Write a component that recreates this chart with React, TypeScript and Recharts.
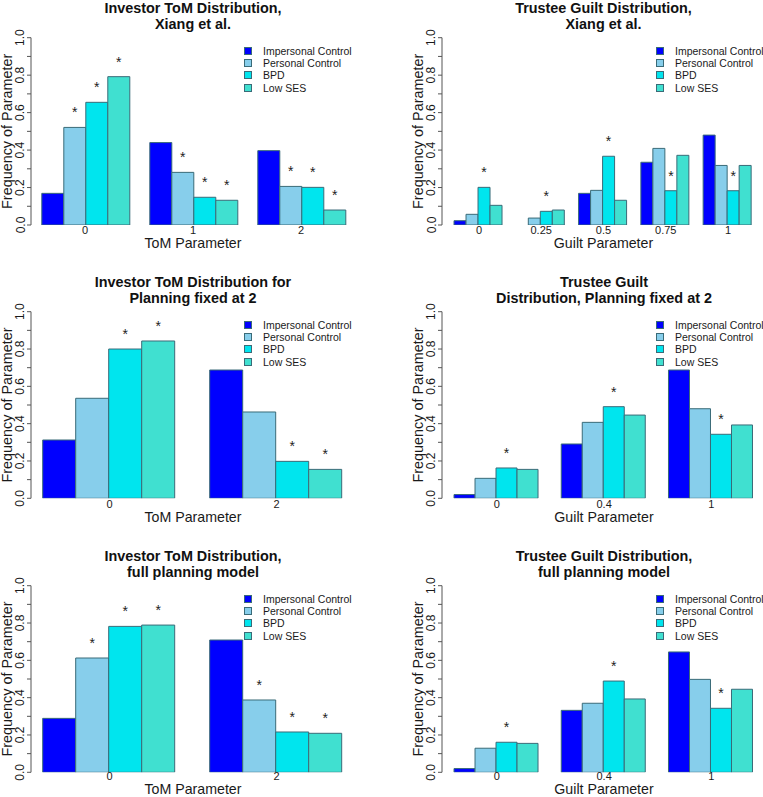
import React from "react";
import { BarChart, Bar, XAxis, YAxis, Legend, LabelList, Label } from "recharts";

const FONT = "'Liberation Sans', Arial, Helvetica, sans-serif";
const BORDER = "#3a6b78";
const INK = "#1a1a1a";

const SERIES_KEYS = ["ic", "pc", "bpd", "ses"];
const SERIES_NAMES = ["Impersonal Control", "Personal Control", "BPD", "Low SES"];
const SERIES_COLORS = ["#0000FF", "#87CEEB", "#00E5EE", "#40E0D0"];

const Y_TICKS = [0, 0.1, 0.2, 0.3, 0.4, 0.5, 0.6, 0.7, 0.8, 0.9, 1.0];

// Investor ToM, Xiang et al.
const TOM_XIANG_CATS = ["0", "1", "2"];
const TOM_XIANG_IC = [0.169, 0.44, 0.397];
const TOM_XIANG_PC = [0.521, 0.281, 0.206];
const TOM_XIANG_BPD = [0.655, 0.148, 0.201];
const TOM_XIANG_SES = [0.792, 0.132, 0.08];
const TOM_XIANG_STARS = [[0, 1, 1, 1], [0, 1, 1, 1], [0, 1, 1, 1]];

// Trustee guilt, Xiang et al.
const GUILT_XIANG_CATS = ["0", "0.25", "0.5", "0.75", "1"];
const GUILT_XIANG_IC = [0.023, 0, 0.169, 0.335, 0.48];
const GUILT_XIANG_PC = [0.057, 0.037, 0.185, 0.409, 0.318];
const GUILT_XIANG_BPD = [0.201, 0.073, 0.367, 0.183, 0.183];
const GUILT_XIANG_SES = [0.105, 0.08, 0.132, 0.372, 0.318];
const GUILT_XIANG_STARS = [[0, 0, 1, 0], [0, 0, 1, 0], [0, 0, 1, 0], [0, 0, 1, 0], [0, 0, 1, 0]];

// Investor ToM, planning fixed at 2
const TOM_FIXED_CATS = ["0", "2"];
const TOM_FIXED_IC = [0.3125, 0.6875];
const TOM_FIXED_PC = [0.536, 0.4625];
const TOM_FIXED_BPD = [0.8, 0.198];
const TOM_FIXED_SES = [0.843, 0.155];
const TOM_FIXED_STARS = [[0, 0, 1, 1], [0, 0, 1, 1]];

// Trustee guilt, planning fixed at 2
const GUILT_FIXED_CATS = ["0", "0.4", "1"];
const GUILT_FIXED_IC = [0.02, 0.291, 0.6875];
const GUILT_FIXED_PC = [0.107, 0.407, 0.48];
const GUILT_FIXED_BPD = [0.1625, 0.491, 0.343];
const GUILT_FIXED_SES = [0.155, 0.446, 0.393];
const GUILT_FIXED_STARS = [[0, 0, 1, 0], [0, 0, 1, 0], [0, 0, 1, 0]];

// Investor ToM, full planning model
const TOM_FULL_CATS = ["0", "2"];
const TOM_FULL_IC = [0.289, 0.709];
const TOM_FULL_PC = [0.6125, 0.3875];
const TOM_FULL_BPD = [0.782, 0.216];
const TOM_FULL_SES = [0.789, 0.209];
const TOM_FULL_STARS = [[0, 1, 1, 1], [0, 1, 1, 1]];

// Trustee guilt, full planning model
const GUILT_FULL_CATS = ["0", "0.4", "1"];
const GUILT_FULL_IC = [0.02, 0.332, 0.645];
const GUILT_FULL_PC = [0.129, 0.37, 0.498];
const GUILT_FULL_BPD = [0.161, 0.489, 0.343];
const GUILT_FULL_SES = [0.155, 0.393, 0.445];
const GUILT_FULL_STARS = [[0, 0, 1, 0], [0, 0, 1, 0], [0, 0, 1, 0]];

function buildRows(cats: string[], values: number[][], stars: number[][]) {
  return cats.map((cat, i) => {
    const row: Record<string, number | string> = { cat };
    SERIES_KEYS.forEach((k, s) => {
      row[k] = values[s][i];
      row[k + "Star"] = stars[i][s];
    });
    return row;
  });
}

// tickDy / titleDy: baseline offsets below the plot bottom for x tick labels and x title
const PANELS = [
  {
    title: ["Investor ToM Distribution,", "Xiang et al."],
    xLabel: "ToM Parameter",
    rows: buildRows(TOM_XIANG_CATS, [TOM_XIANG_IC, TOM_XIANG_PC, TOM_XIANG_BPD, TOM_XIANG_SES], TOM_XIANG_STARS),
    box: { left: 0, top: 0, width: 381, height: 265 },
    plot: { left: 31, top: 37.7, right: 355, bottom: 225 },
    pad: [0, 0],
    legendLeft: 244,
    tickDy: 9.2,
    titleDy: 23,
  },
  {
    title: ["Trustee Guilt Distribution,", "Xiang et al."],
    xLabel: "Guilt Parameter",
    rows: buildRows(GUILT_XIANG_CATS, [GUILT_XIANG_IC, GUILT_XIANG_PC, GUILT_XIANG_BPD, GUILT_XIANG_SES], GUILT_XIANG_STARS),
    box: { left: 381, top: 0, width: 390, height: 265 },
    plot: { left: 442, top: 37.7, right: 765, bottom: 225 },
    pad: [5.8, 5.8],
    legendLeft: 275,
    tickDy: 9.2,
    titleDy: 23,
  },
  {
    title: ["Investor ToM Distribution for", "Planning fixed at 2"],
    xLabel: "ToM Parameter",
    rows: buildRows(TOM_FIXED_CATS, [TOM_FIXED_IC, TOM_FIXED_PC, TOM_FIXED_BPD, TOM_FIXED_SES], TOM_FIXED_STARS),
    box: { left: 0, top: 265, width: 381, height: 265 },
    plot: { left: 31, top: 311.7, right: 355, bottom: 498.3 },
    pad: [-5, -5],
    legendLeft: 244,
    tickDy: 9.6,
    titleDy: 23.3,
  },
  {
    title: ["Trustee Guilt", "Distribution, Planning fixed at 2"],
    xLabel: "Guilt Parameter",
    rows: buildRows(GUILT_FIXED_CATS, [GUILT_FIXED_IC, GUILT_FIXED_PC, GUILT_FIXED_BPD, GUILT_FIXED_SES], GUILT_FIXED_STARS),
    box: { left: 381, top: 265, width: 390, height: 265 },
    plot: { left: 442, top: 311.7, right: 766, bottom: 498.3 },
    pad: [1.3, 1],
    legendLeft: 275,
    tickDy: 9.6,
    titleDy: 23.3,
  },
  {
    title: ["Investor ToM Distribution,", "full planning model"],
    xLabel: "ToM Parameter",
    rows: buildRows(TOM_FULL_CATS, [TOM_FULL_IC, TOM_FULL_PC, TOM_FULL_BPD, TOM_FULL_SES], TOM_FULL_STARS),
    box: { left: 0, top: 530, width: 381, height: 267 },
    plot: { left: 31, top: 585.7, right: 355, bottom: 772.3 },
    pad: [-5, -5],
    legendLeft: 244,
    tickDy: 7.6,
    titleDy: 21.7,
  },
  {
    title: ["Trustee Guilt Distribution,", "full planning model"],
    xLabel: "Guilt Parameter",
    rows: buildRows(GUILT_FULL_CATS, [GUILT_FULL_IC, GUILT_FULL_PC, GUILT_FULL_BPD, GUILT_FULL_SES], GUILT_FULL_STARS),
    box: { left: 381, top: 530, width: 390, height: 267 },
    plot: { left: 442, top: 585.7, right: 766, bottom: 772.3 },
    pad: [1.3, 1],
    legendLeft: 275,
    tickDy: 7.6,
    titleDy: 21.7,
  },
];

const YTick = (props: any) => {
  const { x, y, payload } = props;
  const v = payload.value as number;
  if (Math.round(v * 10) % 2 !== 0) return null;
  return (
    <text
      x={x + 0.5}
      y={y}
      transform={`rotate(-90, ${x + 0.5}, ${y})`}
      textAnchor="middle"
      fontSize={12}
      fontFamily={FONT}
      fill={INK}
    >
      {v.toFixed(1)}
    </text>
  );
};

const makeXTick = (dy: number) => (props: any) => {
  const { x, y, payload } = props;
  return (
    <text x={x} y={y + dy} textAnchor="middle" fontSize={11} fontFamily={FONT} fill={INK}>
      {payload.value}
    </text>
  );
};

const Star = (props: any) => {
  const { x, y, width, value } = props;
  if (!value) return null;
  return (
    <text x={x + width / 2} y={y - 10} textAnchor="middle" fontSize={14} fontFamily={FONT} fill="#222">
      *
    </text>
  );
};

const LegendBox = () => (
  <div style={{ fontFamily: FONT, fontSize: 10.5, color: INK }}>
    {SERIES_NAMES.map((name, i) => (
      <div key={name} style={{ display: "flex", alignItems: "center", height: 12.4, whiteSpace: "nowrap" }}>
        <span
          style={{
            display: "inline-block",
            width: 6,
            height: 6,
            background: SERIES_COLORS[i],
            border: `1px solid ${BORDER}`,
            marginRight: 11,
          }}
        />
        {name}
      </div>
    ))}
  </div>
);

function Panel({ cfg }: { cfg: (typeof PANELS)[number] }) {
  const { box, plot, pad, rows, title, xLabel, legendLeft, tickDy, titleDy } = cfg;
  const plotTopRel = plot.top - box.top;
  const plotBottomRel = plot.bottom - box.top;
  const yAxisWidth = plot.left - box.left;
  const xAxisHeight = box.height - plotBottomRel;
  const margin = { top: plotTopRel, left: 0, right: box.left + box.width - plot.right, bottom: 0 };

  return (
    <div style={{ position: "absolute", left: box.left, top: box.top, width: box.width, height: box.height }}>
      <div
        style={{
          position: "absolute",
          left: yAxisWidth,
          width: plot.right - plot.left,
          top: plotTopRel - 30 - 8.2,
          textAlign: "center",
          fontFamily: FONT,
          fontWeight: "bold",
          fontSize: 14.4,
          lineHeight: "16.4px",
          color: "#111",
          zIndex: 2,
        }}
      >
        {title[0]}
        <br />
        {title[1]}
      </div>
      <BarChart
        width={box.width}
        height={box.height}
        data={rows}
        margin={margin}
        barGap={0}
        barCategoryGap="10%"
      >
        <XAxis
          dataKey="cat"
          height={xAxisHeight}
          axisLine={false}
          tickLine={false}
          tickSize={0}
          tickMargin={0}
          interval={0}
          padding={{ left: pad[0], right: pad[1] }}
          tick={makeXTick(tickDy)}
        >
          <Label
            content={(p: any) => {
              const vb = p.viewBox;
              return (
                <text
                  x={vb.x + vb.width / 2}
                  y={vb.y + titleDy}
                  textAnchor="middle"
                  fontSize={14.2}
                  fontFamily={FONT}
                  fill={INK}
                >
                  {xLabel}
                </text>
              );
            }}
          />
        </XAxis>
        <YAxis
          type="number"
          domain={[0, 1]}
          ticks={Y_TICKS}
          interval={0}
          width={yAxisWidth}
          tickSize={4}
          tickMargin={3}
          axisLine={{ stroke: "#555" }}
          tickLine={{ stroke: "#555" }}
          tick={YTick}
          allowDataOverflow
        >
          <Label
            content={(p: any) => {
              const vb = p.viewBox;
              const tx = vb.x + vb.width - 18.7;
              const ty = vb.y + vb.height / 2;
              return (
                <text
                  x={tx}
                  y={ty}
                  transform={`rotate(-90, ${tx}, ${ty})`}
                  textAnchor="middle"
                  fontSize={14.4}
                  fontFamily={FONT}
                  fill={INK}
                >
                  Frequency of Parameter
                </text>
              );
            }}
          />
        </YAxis>
        <Legend
          layout="vertical"
          align="center"
          verticalAlign="middle"
          wrapperStyle={{ left: legendLeft, top: plotTopRel + 13 - 6.2, width: "auto", height: "auto" }}
          content={LegendBox}
        />
        {SERIES_KEYS.map((k, i) => (
          <Bar
            key={k}
            dataKey={k}
            name={SERIES_NAMES[i]}
            fill={SERIES_COLORS[i]}
            stroke={BORDER}
            strokeWidth={1}
            isAnimationActive={false}
          >
            <LabelList dataKey={k + "Star"} content={Star} />
          </Bar>
        ))}
      </BarChart>
    </div>
  );
}

export default function App() {
  return (
    <div
      style={{
        position: "absolute",
        left: 0,
        top: 0,
        width: 763,
        height: 797,
        overflow: "hidden",
        background: "#ffffff",
      }}
    >
      {PANELS.map((cfg, i) => (
        <Panel key={i} cfg={cfg} />
      ))}
    </div>
  );
}
